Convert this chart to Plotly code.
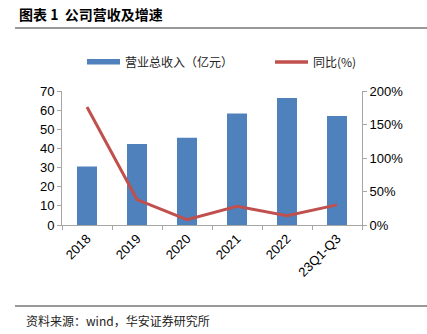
import plotly.graph_objects as go

categories = ["2018", "2019", "2020", "2021", "2022", "23Q1-Q3"]
revenue = [30.6, 42.3, 45.6, 58.3, 66.3, 56.9]
yoy = [176, 38, 8, 28, 14, 30]

W, H = 427, 334
L, R, T, B = 62, 65, 91, 109
pw = W - L - R
ph = H - T - B


def px(x):
    return (x - L) / pw


def py(y):
    return (H - B - y) / ph


fig = go.Figure()
fig.add_trace(go.Bar(x=categories, y=revenue, name="营业总收入（亿元）",
                     marker=dict(color="#4F81BD", line=dict(width=0)), width=0.4))
fig.add_trace(go.Scatter(x=categories, y=yoy, name="同比(%)", yaxis="y2", mode="lines",
                         line=dict(color="#C0504D", width=3)))

font_cjk = "Noto Sans CJK SC"
fig.update_layout(
    width=W, height=H,
    margin=dict(l=L, r=R, t=T, b=B),
    paper_bgcolor="white", plot_bgcolor="white",
    font=dict(family="Liberation Sans, Arial, sans-serif", size=13, color="#000"),
    showlegend=False,
    xaxis=dict(showline=True, linecolor="#A6A6A6", ticks="outside", tickson="boundaries",
               tickcolor="#A6A6A6", ticklen=4, tickangle=-45, showgrid=False,
               tickfont=dict(size=13)),
    yaxis=dict(range=[0, 70], dtick=10, showline=True, linecolor="#A6A6A6", ticks="outside",
               tickcolor="#A6A6A6", ticklen=4, showgrid=False, zeroline=False,
               tickfont=dict(size=13)),
    yaxis2=dict(range=[0, 200], dtick=50, overlaying="y", side="right", showline=True,
                linecolor="#A6A6A6", ticks="outside", tickcolor="#A6A6A6", ticklen=4,
                showgrid=False, zeroline=False, ticksuffix="%", tickfont=dict(size=13)),
)

# Legend (drawn manually to match the reference's wide swatches)
fig.add_shape(type="rect", xref="paper", yref="paper",
              x0=px(87), x1=px(120), y0=py(64.5), y1=py(59),
              fillcolor="#4F81BD", line=dict(width=0))
fig.add_annotation(text="营业总收入（亿元）", xref="paper", yref="paper",
                   x=px(123), xanchor="left", y=py(62), yanchor="middle", showarrow=False,
                   font=dict(family=font_cjk, size=12, color="#222"))
fig.add_shape(type="line", xref="paper", yref="paper",
              x0=px(275), x1=px(308), y0=py(62), y1=py(62),
              line=dict(color="#C0504D", width=3.5))
fig.add_annotation(text="同比(%)", xref="paper", yref="paper",
                   x=px(311), xanchor="left", y=py(62), yanchor="middle", showarrow=False,
                   font=dict(family=font_cjk, size=12, color="#222"))

# Header / footer
fig.add_annotation(text="<b>图表 1  公司营收及增速</b>", xref="paper", yref="paper",
                   x=px(17), xanchor="left", y=py(14), yanchor="middle", showarrow=False,
                   font=dict(family=font_cjk, size=14, color="#000"))
fig.add_shape(type="line", xref="paper", yref="paper",
              x0=px(15), x1=px(W), y0=py(28), y1=py(28),
              line=dict(color="#333", width=1))
fig.add_shape(type="line", xref="paper", yref="paper",
              x0=px(15), x1=px(W), y0=py(306), y1=py(306),
              line=dict(color="#333", width=1))
fig.add_annotation(text="资料来源：wind，华安证券研究所", xref="paper", yref="paper",
                   x=px(24), xanchor="left", y=py(320), yanchor="middle", showarrow=False,
                   font=dict(family=font_cjk, size=12, color="#222"))

fig.write_html("out.html")
